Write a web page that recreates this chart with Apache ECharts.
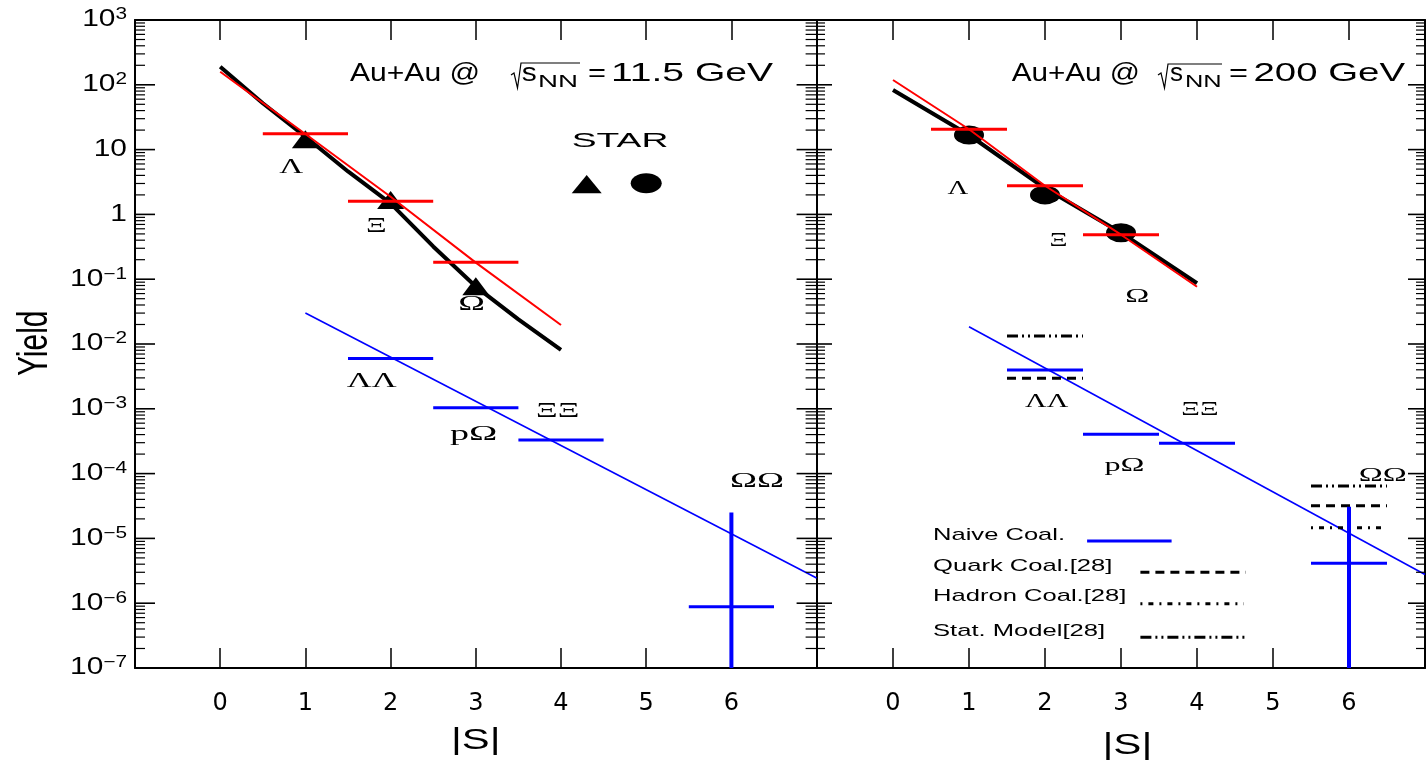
<!DOCTYPE html>
<html>
<head>
<meta charset="utf-8">
<script src="https://cdn.jsdelivr.net/npm/echarts@6/dist/echarts.min.js"></script>
<style>
  html, body { margin: 0; padding: 0; background: #fff; }
  #chart { width: 1428px; height: 760px; }
</style>
</head>
<body>
<div id="chart"></div>
<script>
// ---- data -------------------------------------------------------------
// |S| of the single-strange hyperons and of the strange dibaryon candidates
const hyperonS = [1, 2, 3];                 // Λ, Ξ, Ω
const dibaryonS = [2, 3, 4, 6];             // ΛΛ, pΩ, ΞΞ, ΩΩ

// Au+Au 11.5 GeV
const starYield115 = [14.5, 1.67, 0.078];
const naiveHyperon115 = [17.5, 1.59, 0.182];
const trendS115 = [0, 0.5, 1, 1.5, 2, 2.5, 3, 3.5, 4];
const starTrend115 = [190, 52, 15.8, 4.6, 1.48, 0.32, 0.077, 0.024, 0.0081];
const naiveTrendS115 = [0, 1, 2, 3, 4];
const naiveTrend115 = [159, 17.4, 1.87, 0.18, 0.0196];
const dibaryonTrendS = [1, 7];
const dibaryonTrend115 = [0.030, 2.45e-6];
const naiveDibaryon115 = [6.0e-3, 1.04e-3, 3.3e-4, 8.8e-7];
const omegaOmegaRange115 = [1e-9, 2.5e-5];

// Au+Au 200 GeV
const starYield200 = [16.8, 2.0, 0.52];
const naiveHyperon200 = [20.6, 2.77, 0.486];
const trendS200 = [0, 1, 2, 3, 4];
const starTrend200 = [83, 16.8, 2.53, 0.522, 0.0865];
const naiveTrend200 = [118.6, 20.6, 2.77, 0.486, 0.0766];
const dibaryonTrend200 = [0.0185, 2.77e-6];
const naiveDibaryon200 = [3.97e-3, 4.04e-4, 2.94e-4, 4.12e-6];
const omegaOmegaRange200 = [1e-9, 3.09e-5];
const modelS = [2, 6];                      // ΛΛ, ΩΩ
const quarkCoal200 = [2.95e-3, 3.2e-5];
const hadronCoalS = [6];
const hadronCoal200 = [1.46e-5];
const statModel200 = [1.33e-2, 6.44e-5];

// axis tick labels
const sTickLabels = [0, 1, 2, 3, 4, 5, 6];
const yieldDecades = [1e-7, 1e-6, 1e-5, 1e-4, 1e-3, 1e-2, 1e-1, 1, 10, 1e2, 1e3];

// ---- helpers ----------------------------------------------------------
const S_MIN = -1, S_MAX = 7, Y_MIN = 1e-7, Y_MAX = 1e3, BAR_HALF = 0.5;
const SANS = 'Liberation Sans', SERIF = 'Liberation Serif';
const BLUE = '#0000ff', RED = '#ff0000', BLACK = '#000000';

const minorTickValues = [];
for (let e = -7; e < 3; e++) {
  for (let m = 2; m <= 9; m++) minorTickValues.push(m * Math.pow(10, e));
}

function powerLabel(v) {
  const k = Math.round(Math.log10(v));
  if (k === 0) return '{b|1}';
  if (k === 1) return '{b|10}';
  return '{b|10}{sup|' + (k < 0 ? '\u2212' + (-k) : k) + '}';
}

function xAxisCfg(gi, position, showLabels) {
  return {
    type: 'value', gridIndex: gi, position, min: S_MIN, max: S_MAX, interval: 1,
    axisLine: { show: true, onZero: false, lineStyle: { color: BLACK, width: 2 } },
    axisTick: { show: true, inside: true, length: 20, lineStyle: { color: BLACK, width: 1.5 } },
    axisLabel: {
      show: showLabels, margin: 24, color: BLACK, fontSize: 24, fontFamily: 'DejaVu Sans',
      formatter: v => (sTickLabels.indexOf(v) >= 0 ? String(v) : '')
    },
    splitLine: { show: false }
  };
}

// log axes keep only the frame line; decades and minor ticks are drawn below
function yAxisCfg(gi, position) {
  return {
    type: 'log', logBase: 10, gridIndex: gi, position, min: Y_MIN, max: Y_MAX,
    axisLine: { show: true, onZero: false, lineStyle: { color: BLACK, width: 2 } },
    axisTick: { show: false },
    axisLabel: { show: false },
    minorTick: { show: false },
    splitLine: { show: false }
  };
}

function edgeTickLines(a, b, lenL, lenR, width) {
  const st = { stroke: BLACK, lineWidth: width };
  return [
    { type: 'line', shape: { x1: a[0], y1: a[1], x2: a[0] + lenL, y2: a[1] }, style: st },
    { type: 'line', shape: { x1: b[0] - lenR, y1: b[1], x2: b[0], y2: b[1] }, style: st }
  ];
}

// minor log ticks on both vertical edges of a panel
function minorTicks(gi, lenL, lenR) {
  return {
    type: 'custom', xAxisIndex: gi * 2, yAxisIndex: gi * 2, clip: false, silent: true, z: 6,
    data: minorTickValues.map(v => [S_MIN, v]),
    renderItem: (params, api) => {
      const v = api.value(1);
      return { type: 'group', children: edgeTickLines(api.coord([S_MIN, v]), api.coord([S_MAX, v]), lenL, lenR, 1.2) };
    }
  };
}

// decade ticks (and power-of-ten labels on the outer left edge)
function decadeTicks(gi, lenL, lenR, withLabels) {
  return {
    type: 'custom', xAxisIndex: gi * 2, yAxisIndex: gi * 2, clip: false, silent: true, z: 6,
    data: yieldDecades.map(v => [S_MIN, v]),
    renderItem: (params, api) => {
      const v = api.value(1);
      const a = api.coord([S_MIN, v]);
      const children = edgeTickLines(a, api.coord([S_MAX, v]), lenL, lenR, 1.6);
      if (withLabels) {
        children.push({
          type: 'text', x: a[0] - 8, y: a[1], scaleX: 1.3,
          style: {
            text: powerLabel(v), align: 'right', verticalAlign: 'middle',
            fontSize: 23, fontFamily: SANS, fill: BLACK,
            rich: {
              b: { fontSize: 23, fontFamily: SANS, fill: BLACK, color: BLACK, lineHeight: 26 },
              sup: { fontSize: 16, fontFamily: SANS, fill: BLACK, color: BLACK, lineHeight: 16, verticalAlign: 'top' }
            }
          }
        });
      }
      return { type: 'group', children };
    }
  };
}

// horizontal bar of width 1 in |S| centred on each value
function hBars(gi, xs, ys, color, width, dash, z) {
  return {
    type: 'custom', xAxisIndex: gi * 2, yAxisIndex: gi * 2, clip: true, silent: true, z,
    data: xs.map((s, i) => [s, ys[i]]),
    renderItem: (params, api) => {
      const s = api.value(0), v = api.value(1);
      const p0 = api.coord([s - BAR_HALF, v]), p1 = api.coord([s + BAR_HALF, v]);
      return {
        type: 'line', shape: { x1: p0[0], y1: p0[1], x2: p1[0], y2: p1[1] },
        style: { stroke: color, lineWidth: width, lineDash: dash || null }
      };
    }
  };
}

// vertical uncertainty bar
function vBar(gi, s, range, color, width, z) {
  return {
    type: 'custom', xAxisIndex: gi * 2, yAxisIndex: gi * 2, clip: true, silent: true, z,
    data: [[s, range[0], range[1]]],
    renderItem: (params, api) => {
      const p0 = api.coord([api.value(0), api.value(1)]);
      const p1 = api.coord([api.value(0), api.value(2)]);
      return {
        type: 'line', shape: { x1: p0[0], y1: p0[1], x2: p1[0], y2: p1[1] },
        style: { stroke: color, lineWidth: width }
      };
    }
  };
}

function curve(gi, xs, ys, color, width, z) {
  return {
    type: 'line', xAxisIndex: gi * 2, yAxisIndex: gi * 2, silent: true, z, clip: true,
    data: xs.map((s, i) => [s, ys[i]]),
    symbol: 'none', showSymbol: false,
    lineStyle: { color, width, opacity: 1 }
  };
}

function markers(gi, xs, ys, symbol, size, z) {
  return {
    type: 'scatter', xAxisIndex: gi * 2, yAxisIndex: gi * 2, silent: true, z,
    data: xs.map((s, i) => [s, ys[i]]),
    symbol, symbolSize: size,
    itemStyle: { color: BLACK, opacity: 1 }
  };
}

// text stretched horizontally to a given span
const measureCtx = document.createElement('canvas').getContext('2d');
function fitText(str, x0, x1, cy, size, family) {
  measureCtx.font = size + 'px "' + family + '"';
  const w = measureCtx.measureText(str).width;
  return {
    type: 'text', x: x0, y: cy, scaleX: (x1 - x0) / w, silent: true, z: 50,
    style: { text: str, fontSize: size, fontFamily: family, fill: BLACK, align: 'left', verticalAlign: 'middle' }
  };
}

function segment(x1, y1, x2, y2, color, width, dash) {
  return {
    type: 'line', silent: true, z: 50,
    shape: { x1, y1, x2, y2 },
    style: { stroke: color, lineWidth: width, lineDash: dash || null }
  };
}

function radical(points) {
  return { type: 'polyline', silent: true, z: 50, shape: { points }, style: { stroke: BLACK, lineWidth: 1.2, fill: null } };
}

const QUARK_DASH = [9, 6];
const HADRON_DASH = [2, 6, 5, 6];
const STAT_DASH = [11, 4, 2, 4, 2, 4];

// ---- chart ------------------------------------------------------------
const chart = echarts.init(document.getElementById('chart'), null, { renderer: 'canvas' });

chart.setOption({
  animation: false,
  backgroundColor: '#ffffff',
  grid: [
    { left: 135, top: 20, width: 681.6, height: 648 },
    { left: 817, top: 20, width: 619.2, height: 648 }
  ],
  xAxis: [
    xAxisCfg(0, 'bottom', true),
    xAxisCfg(0, 'top', false),
    xAxisCfg(1, 'bottom', true),
    xAxisCfg(1, 'top', false)
  ],
  yAxis: [
    yAxisCfg(0, 'left'),
    yAxisCfg(0, 'right'),
    yAxisCfg(1, 'left'),
    yAxisCfg(1, 'right')
  ],
  series: [
    // left panel: 11.5 GeV
    minorTicks(0, 10, 11),
    decadeTicks(0, 20, 20, true),
    curve(0, dibaryonTrendS, dibaryonTrend115, BLUE, 1.6, 3),
    hBars(0, dibaryonS, naiveDibaryon115, BLUE, 3, null, 4),
    vBar(0, 6, omegaOmegaRange115, BLUE, 4, 4),
    markers(0, hyperonS, starYield115, 'triangle', [27, 18], 5),
    curve(0, trendS115, starTrend115, BLACK, 4, 6),
    curve(0, naiveTrendS115, naiveTrend115, RED, 2, 7),
    hBars(0, hyperonS, naiveHyperon115, RED, 3, null, 8),

    // right panel: 200 GeV
    minorTicks(1, 8, 9),
    decadeTicks(1, 15, 17, false),
    curve(1, dibaryonTrendS, dibaryonTrend200, BLUE, 1.6, 3),
    hBars(1, modelS, statModel200, BLACK, 3, STAT_DASH, 4),
    hBars(1, modelS, quarkCoal200, BLACK, 3, QUARK_DASH, 4),
    hBars(1, hadronCoalS, hadronCoal200, BLACK, 3, HADRON_DASH, 4),
    hBars(1, dibaryonS, naiveDibaryon200, BLUE, 3, null, 5),
    vBar(1, 6, omegaOmegaRange200, BLUE, 4, 5),
    markers(1, hyperonS, starYield200, 'circle', [30, 19], 5),
    curve(1, trendS200, starTrend200, BLACK, 4, 6),
    curve(1, trendS200, naiveTrend200, RED, 2, 7),
    hBars(1, hyperonS, naiveHyperon200, RED, 3, null, 8)
  ],
  graphic: {
    elements: [
      // titles
      fitText('Au+Au @', 350, 480, 74, 25, SANS),
      radical([[511, 75], [514, 73], [517.5, 88], [521, 63], [580, 63]]),
      fitText('s', 521.7, 536.7, 74, 25, SANS),
      fitText('NN', 538, 578, 82.5, 16, SANS),
      fitText('=', 588, 606, 74, 25, SANS),
      fitText('11.5 GeV', 611, 773, 74, 25, SANS),

      fitText('Au+Au @', 1011.7, 1140, 74, 25, SANS),
      radical([[1158, 75], [1161, 73], [1164.5, 88], [1168, 64], [1222, 64]]),
      fitText('s', 1170, 1183, 74, 25, SANS),
      fitText('NN', 1185, 1221.7, 82.5, 16, SANS),
      fitText('=', 1229, 1248, 74, 25, SANS),
      fitText('200 GeV', 1253.5, 1405, 74, 25, SANS),

      // STAR key
      fitText('STAR', 571.7, 668.3, 140.8, 21, SANS),
      { type: 'polygon', silent: true, z: 50, shape: { points: [[571.7, 193.3], [586.7, 175], [601.7, 193.3]] }, style: { fill: BLACK } },
      { type: 'ellipse', silent: true, z: 50, shape: { cx: 646.2, cy: 183.3, rx: 15.5, ry: 10 }, style: { fill: BLACK } },

      // particle labels, 11.5 GeV
      fitText('Λ', 279.3, 303.3, 167.5, 22, SERIF),
      fitText('Ξ', 366, 386.7, 225.8, 22, SERIF),
      fitText('Ω', 458.3, 485, 304, 22, SERIF),
      fitText('ΛΛ', 346.7, 396.7, 381.7, 20, SERIF),
      fitText('pΩ', 450, 497.3, 434, 22, SERIF),
      fitText('ΞΞ', 536, 579.3, 410.8, 22, SERIF),
      fitText('ΩΩ', 730, 784, 480.8, 22, SERIF),

      // particle labels, 200 GeV
      fitText('Λ', 947.4, 968.2, 189, 18, SERIF),
      fitText('Ξ', 1049.5, 1067.5, 241.7, 18, SERIF),
      fitText('Ω', 1125.2, 1149.2, 297.3, 18, SERIF),
      fitText('ΛΛ', 1025, 1068.3, 401.7, 19, SERIF),
      fitText('ΞΞ', 1181.3, 1218.5, 410, 19, SERIF),
      fitText('pΩ', 1104.4, 1144.4, 466.3, 19, SERIF),
      fitText('ΩΩ', 1358.7, 1406.7, 476.3, 19, SERIF),

      // model key
      fitText('Naive Coal.', 933, 1065.1, 535.5, 17, SANS),
      segment(1087.1, 541, 1171.6, 541, BLUE, 3),
      fitText('Quark Coal.[28]', 933, 1112.4, 566.3, 17, SANS),
      segment(1140.4, 572.3, 1245.7, 572.3, BLACK, 3, QUARK_DASH),
      fitText('Hadron Coal.[28]', 933, 1126.4, 596.3, 17, SANS),
      segment(1140.4, 603.7, 1243.7, 603.7, BLACK, 3, HADRON_DASH),
      fitText('Stat. Model[28]', 933, 1105.2, 631.3, 17, SANS),
      segment(1140.4, 637.3, 1245.7, 637.3, BLACK, 3, STAT_DASH),

      // axis titles
      fitText('|S|', 451, 500.5, 740.8, 30, SANS),
      fitText('|S|', 1102.4, 1152.4, 746, 30, SANS),
      {
        type: 'text', x: 35, y: 343.3, rotation: Math.PI / 2, scaleY: 1.4, silent: true, z: 50,
        style: { text: 'Yield', fontSize: 30, fontFamily: SANS, fill: BLACK, align: 'center', verticalAlign: 'middle' }
      }
    ]
  }
});
</script>
</body>
</html>
